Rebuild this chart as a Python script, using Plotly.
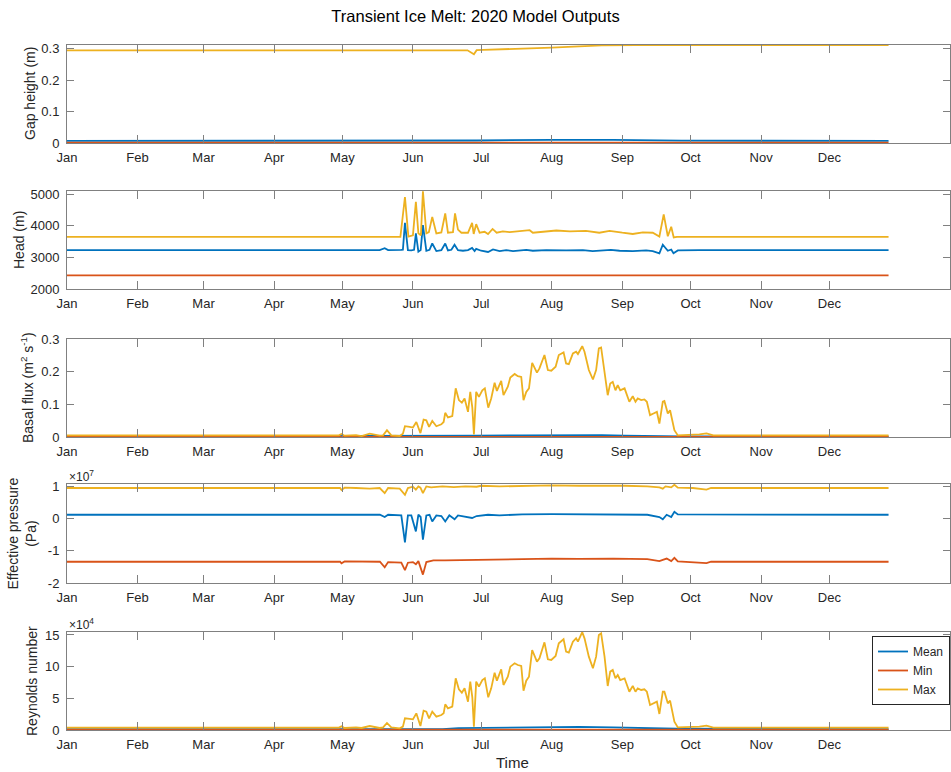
import pandas as pd
import plotly.graph_objects as go

# ---------------- data (day offsets from 2020-01-01) ----------------
START = pd.Timestamp("2020-01-01")

month_ticks = ["2020-01-01", "2020-02-01", "2020-03-01", "2020-04-01", "2020-05-01", "2020-06-01",
               "2020-07-01", "2020-08-01", "2020-09-01", "2020-10-01", "2020-11-01", "2020-12-01"]
month_labels = ["Jan", "Feb", "Mar", "Apr", "May", "Jun", "Jul", "Aug", "Sep", "Oct", "Nov", "Dec"]

series_names = ["Mean", "Min", "Max"]

# Gap height (m)
gap_mean_day = [0, 150, 180, 213, 240, 270, 300, 361]
gap_mean = [0.0065, 0.0065, 0.008, 0.0100, 0.0100, 0.0075, 0.0065, 0.0065]
gap_min_day = [0, 361]
gap_min = [0.0015, 0.0015]
gap_max_day = [0, 120, 176, 178.8, 180, 183, 200, 213, 225, 235, 250, 361]
gap_max = [0.2945, 0.2945, 0.2945, 0.282, 0.295, 0.296, 0.299, 0.303, 0.307, 0.310, 0.311, 0.311]

# Head (m)
head_mean_day = [0, 120, 137.4, 139.6, 141.1, 146.9, 147.6, 148.5, 149.8, 151.3, 152.5, 153.3, 154.4,
                 155.4, 156.4, 157.9, 159.3, 160.5, 162.3, 164.5, 166.2, 167.4, 168.9, 170.3, 171.8,
                 174, 176.2, 178, 179.1, 179.8, 182, 185, 187.2, 190.1, 193, 196, 201.8, 204.7, 210.6,
                 219.3, 226.7, 231, 239, 242.8, 248.6, 254.5, 257.4, 260.3, 261.8, 264, 265.5, 266.5,
                 268.4, 277.9, 361]
head_mean = [3230, 3230, 3230, 3290, 3230, 3235, 3240, 4090, 3230, 3220, 3240, 3760, 3180,
             3230, 4020, 3210, 3240, 3440, 3200, 3230, 3440, 3220, 3240, 3400, 3230,
             3210, 3230, 3300, 3200, 3270, 3210, 3170, 3250, 3200, 3230, 3200, 3240, 3210, 3230,
             3220, 3230, 3200, 3240, 3210, 3200, 3220, 3200, 3130, 3400, 3210, 3250, 3130,
             3220, 3230, 3230]
head_min_day = [0, 361]
head_min = [2430, 2430]
head_max_day = [0, 146.5, 148.5, 150, 152, 153.3, 154.4, 155.5, 156.4, 157.9, 159, 160.5, 162.3,
                164.5, 166.2, 167.4, 169.6, 170.5, 171.8, 173.3, 176.2, 178, 178.7, 179.8, 181.3,
                183.5, 185, 187, 188.8, 191.5, 194.5, 198.9, 203.3, 204.7, 210, 215, 221, 228,
                233.9, 238.4, 244, 248.6, 253, 257.4, 260.3, 262.2, 264, 265.5, 266.6, 268, 361]
head_max = [3650, 3650, 4910, 3660, 3700, 4760, 3760, 3700, 5090, 3760, 3800, 4280, 3760,
            3790, 4390, 3780, 3800, 4390, 3880, 3780, 3780, 4090, 3740, 4050, 3780,
            3810, 3740, 3900, 3780, 3820, 3800, 3840, 3860, 3780, 3820, 3850, 3820, 3840,
            3780, 3840, 3780, 3740, 3790, 3780, 3660, 4360, 3670, 3970, 3630, 3650, 3650]

# Basal flux (m^2 s^-1) and Reynolds number share the same sampling days for Max
act_day = [0, 119.5, 120.6, 122, 127, 129.4, 133, 137.4, 138.9, 140.6, 142.5, 146.2, 147.6, 148.5,
           150.6, 152, 153.5, 155.3, 156.7, 157.9, 159.1, 160.5, 162.3, 164.5, 165.5, 166.2, 167.4,
           169.3, 170.8, 172.2, 173.5, 174.7, 176.2, 177.2, 178.1, 178.8, 179.8, 181, 182.5, 183.6,
           185.1, 186.4, 187.9, 188.9, 190.8, 191.8, 193.7, 194.8, 196.7, 198.1, 199.6, 200.6, 201.8,
           203, 204.4, 206.5, 207.6, 209.8, 211.3, 212.8, 214.7, 216.1, 218.2, 219.3, 220.5, 222.3,
           223.7, 224.5, 226.4, 227.4, 229.3, 231.1, 232.5, 233.7, 234.7, 236.2, 237.6, 238.7, 239.8,
           241, 242, 243.1, 245, 247.1, 248.6, 249.8, 250.8, 252.3, 253.7, 254.8, 256.2, 257.7, 259.2,
           260.3, 261.8, 262.5, 264, 265, 266.9, 268.4, 272, 277.9, 281, 284, 361]
flux_max = [0.005, 0.005, 0.009, 0.004, 0.006, 0.003, 0.010, 0.004, 0.005, 0.021, 0.005, 0.003, 0.010, 0.033,
            0.031, 0.029, 0.046, 0.012, 0.053, 0.051, 0.031, 0.049, 0.033, 0.039, 0.046, 0.074, 0.060,
            0.064, 0.149, 0.113, 0.105, 0.118, 0.077, 0.138, 0.090, 0.008, 0.138, 0.123, 0.143, 0.149,
            0.090, 0.118, 0.166, 0.141, 0.172, 0.128, 0.154, 0.182, 0.193, 0.186, 0.184, 0.113, 0.138,
            0.149, 0.227, 0.197, 0.210, 0.251, 0.205, 0.203, 0.215, 0.251, 0.259, 0.225, 0.223, 0.256,
            0.261, 0.254, 0.278, 0.261, 0.205, 0.176, 0.205, 0.271, 0.274, 0.205, 0.128, 0.164, 0.169,
            0.143, 0.159, 0.143, 0.149, 0.108, 0.125, 0.108, 0.118, 0.113, 0.115, 0.108, 0.067, 0.072, 0.077,
            0.041, 0.108, 0.110, 0.072, 0.082, 0.021, 0.005, 0.006, 0.008, 0.011, 0.005, 0.005]
flux_mean_day = [0, 165, 172, 180, 200, 215, 225, 235, 245, 260, 270, 361]
flux_mean = [0.002, 0.002, 0.003, 0.004, 0.005, 0.006, 0.007, 0.006, 0.004, 0.003, 0.002, 0.002]
flux_min_day = [0, 361]
flux_min = [0.0005, 0.0005]

# Effective pressure (Pa)
eff_mean_day = [0, 120, 120.6, 122, 137.5, 139.6, 141.1, 146.9, 148.5, 149.8, 151.3, 153.3, 154.4,
                155.4, 156.4, 157.9, 159.3, 160.5, 162.3, 164.5, 166.2, 168, 170.3, 171.8, 178, 180,
                185, 190, 200, 213, 225, 240, 255, 260.3, 261.8, 263.5, 265.5, 266.9, 268.4, 361]
eff_mean = [0.12e7, 0.12e7, 0.10e7, 0.12e7, 0.12e7, 0.05e7, 0.12e7, 0.10e7, -0.74e7, 0.10e7, 0.10e7, -0.40e7, 0.12e7,
            0.05e7, -0.65e7, 0.10e7, 0.12e7, -0.09e7, 0.10e7, 0.08e7, -0.09e7, 0.10e7, -0.02e7, 0.10e7, 0.02e7, 0.08e7,
            0.12e7, 0.10e7, 0.13e7, 0.14e7, 0.13e7, 0.14e7, 0.12e7, 0.05e7, -0.02e7, 0.12e7, 0.05e7, 0.21e7, 0.13e7, 0.12e7]
eff_min_day = [0, 120, 120.6, 122, 137.5, 139.6, 141.1, 146.9, 148.5, 149.8, 152, 153.3, 154.4, 156.4,
               157.9, 161, 166, 175, 185, 200, 213, 225, 240, 255, 260.3, 261.8, 263.5, 265.5, 266.9,
               268.4, 281, 283, 361]
eff_min = [-1.34e7, -1.34e7, -1.39e7, -1.33e7, -1.34e7, -1.51e7, -1.35e7, -1.37e7, -1.60e7, -1.37e7, -1.35e7,
           -1.42e7, -1.32e7, -1.74e7, -1.35e7, -1.30e7, -1.30e7, -1.29e7, -1.27e7, -1.26e7, -1.24e7, -1.25e7,
           -1.24e7, -1.26e7, -1.32e7, -1.28e7, -1.24e7, -1.32e7, -1.22e7, -1.33e7, -1.38e7, -1.34e7, -1.34e7]
eff_max_day = [0, 120, 120.6, 122, 127, 133, 137.4, 139.6, 141.1, 146.2, 148.5, 149.8, 152, 153.3, 154.4,
               155.3, 156.4, 157.9, 160, 165, 170, 175, 180, 182, 190, 200, 213, 225, 235, 245, 255,
               260.3, 261.8, 263, 265.5, 266.9, 268.4, 275, 281, 283, 361]
eff_max = [0.95e7, 0.95e7, 0.89e7, 0.96e7, 0.95e7, 0.93e7, 0.95e7, 0.79e7, 0.95e7, 0.93e7, 0.74e7, 0.95e7,
           0.99e7, 0.90e7, 1.0e7, 0.96e7, 0.79e7, 1.0e7, 0.97e7, 1.0e7, 0.98e7, 1.0e7, 0.99e7, 1.02e7, 1.0e7,
           1.02e7, 1.03e7, 1.02e7, 1.03e7, 1.02e7, 1.0e7, 0.97e7, 0.93e7, 1.0e7, 0.97e7, 1.05e7, 0.96e7,
           0.95e7, 0.90e7, 0.95e7, 0.95e7]

# Reynolds number
re_max = [3700, 3700, 5800, 3200, 4200, 3200, 6300, 3200, 4200, 11100, 4200, 2600, 5300, 18400,
          17400, 16800, 26300, 6300, 30500, 28900, 18400, 28900, 21100, 23700, 26300, 40500, 34200,
          36800, 81600, 64200, 58900, 65800, 44700, 76300, 51600, 5300, 76300, 68400, 78900, 81600,
          51600, 65800, 90500, 77900, 95800, 71100, 84200, 100000, 105300, 102600, 101100, 62100, 77900,
          84200, 126300, 107900, 113200, 138400, 111600, 110500, 116800, 136800, 143200, 123700, 122100, 139500,
          144700, 139500, 154500, 144700, 115800, 97400, 115800, 150000, 152600, 115800, 69500, 92100, 94700,
          81600, 86800, 78900, 81600, 60500, 69500, 60500, 65800, 63200, 64200, 60500, 39500, 42100, 44700,
          25300, 60500, 60500, 42100, 46300, 13200, 4200, 4200, 5300, 7000, 3700, 3700]
re_mean_day = [0, 165, 172, 190, 210, 225, 240, 255, 268, 361]
re_mean = [1500, 1500, 3000, 3500, 4500, 5000, 4000, 3000, 2000, 1500]
re_min_day = [0, 361]
re_min = [500, 500]

# tick definitions
gap_ticks = [0, 0.1, 0.2, 0.3]
gap_ticktext = ["0", "0.1", "0.2", "0.3"]
head_ticks = [2000, 3000, 4000, 5000]
head_ticktext = ["2000", "3000", "4000", "5000"]
flux_ticks = [0, 0.1, 0.2, 0.3]
flux_ticktext = ["0", "0.1", "0.2", "0.3"]
eff_ticks = [-2e7, -1e7, 0, 1e7]
eff_ticktext = ["-2", "-1", "0", "1"]
re_ticks = [0, 5e4, 10e4, 15e4]
re_ticktext = ["0", "5", "10", "15"]


def to_dates(days):
    return [START + pd.Timedelta(days=float(d)) for d in days]


# ---------------- figure ----------------
colors = ["#0072BD", "#D95319", "#EDB120"]
FONT = "Liberation Sans, Arial, Helvetica, sans-serif"
AX = "#808080"
TXT = "#262626"

panels = [
    dict(series=[(gap_mean_day, gap_mean), (gap_min_day, gap_min), (gap_max_day, gap_max)],
         yrange=[0, 0.3115], ticks=gap_ticks, ticktext=gap_ticktext, label="Gap height (m)",
         lx=30, exp=None),
    dict(series=[(head_mean_day, head_mean), (head_min_day, head_min), (head_max_day, head_max)],
         yrange=[2000, 5100], ticks=head_ticks, ticktext=head_ticktext, label="Head (m)",
         lx=19, exp=None),
    dict(series=[(flux_mean_day, flux_mean), (flux_min_day, flux_min), (act_day, flux_max)],
         yrange=[0, 0.3], ticks=flux_ticks, ticktext=flux_ticktext,
         label="Basal flux (m<sup>2</sup> s<sup>-1</sup>)", lx=27, exp=None),
    dict(series=[(eff_mean_day, eff_mean), (eff_min_day, eff_min), (eff_max_day, eff_max)],
         yrange=[-2e7, 1.075e7], ticks=eff_ticks, ticktext=eff_ticktext,
         label="Effective pressure<br>(Pa)", lx=21, exp="7"),
    dict(series=[(re_mean_day, re_mean), (re_min_day, re_min), (act_day, re_max)],
         yrange=[0, 15.47e4], ticks=re_ticks, ticktext=re_ticktext, label="Reynolds number",
         lx=32, exp="4"),
]

# pixel layout of each axes box (top, bottom) in a 772 px tall figure
W, H = 951, 772
L, R, T, B = 67, 1, 45, 42
boxes = [(45, 143), (191, 289), (339, 437), (484, 583), (632, 730)]
plot_h = H - T - B
plot_w = W - L - R

fig = go.Figure()
layout = dict(
    width=W, height=H,
    margin=dict(l=L, r=R, t=T, b=B),
    paper_bgcolor="white", plot_bgcolor="white",
    font=dict(family=FONT, size=13, color=TXT),
    showlegend=True,
    annotations=[],
)

for i, p in enumerate(panels):
    n = i + 1
    xa = "x" if n == 1 else f"x{n}"
    ya = "y" if n == 1 else f"y{n}"
    for j, (d, v) in enumerate(p["series"]):
        fig.add_trace(go.Scatter(
            x=to_dates(d), y=v, mode="lines", name=series_names[j],
            line=dict(color=colors[j], width=1.8),
            xaxis=xa, yaxis=ya, showlegend=(n == 5), legendgroup=series_names[j],
        ))
    top, bot = boxes[i]
    dom = [(H - B - bot) / plot_h, (H - B - top) / plot_h]
    layout[f"xaxis{'' if n == 1 else n}"] = dict(
        domain=[0, 1], anchor=ya, type="date",
        range=["2020-01-01", "2021-01-23"],
        tickmode="array", tickvals=month_ticks, ticktext=month_labels,
        ticks="inside", ticklen=8, tickcolor=AX, tickwidth=1,
        showline=True, linecolor=AX, linewidth=1, mirror="ticks",
        showgrid=False, zeroline=False,
        tickfont=dict(size=13, color=TXT), ticklabelstandoff=2,
    )
    layout[f"yaxis{'' if n == 1 else n}"] = dict(
        domain=dom, anchor=xa, range=p["yrange"],
        tickmode="array", tickvals=p["ticks"], ticktext=p["ticktext"],
        ticks="inside", ticklen=7, tickcolor=AX, tickwidth=1,
        showline=True, linecolor=AX, linewidth=1, mirror="ticks",
        showgrid=False, zeroline=False,
        tickfont=dict(size=13, color=TXT), ticklabelstandoff=4,
    )
    # y-axis label
    layout["annotations"].append(dict(
        text=p["label"], xref="paper", yref="paper",
        x=(p["lx"] - L) / plot_w, y=(dom[0] + dom[1]) / 2,
        xanchor="center", yanchor="middle", textangle=-90, showarrow=False,
        font=dict(size=14, color=TXT, family=FONT),
    ))
    if p["exp"]:
        layout["annotations"].append(dict(
            text=f"×10<sup>{p['exp']}</sup>", xref="paper", yref="paper",
            x=0, y=dom[1], xanchor="left", yanchor="bottom", showarrow=False,
            font=dict(size=12, color=TXT, family=FONT), yshift=-2,
        ))

# x-axis label
layout["annotations"].append(dict(
    text="Time", xref="paper", yref="paper", x=(512 - L) / plot_w, y=(H - B - 762) / plot_h,
    xanchor="center", yanchor="middle", showarrow=False,
    font=dict(size=15, color=TXT, family=FONT),
))

layout["title"] = dict(
    text="Transient Ice Melt: 2020 Model Outputs", x=0.5, xanchor="center",
    y=1 - 16 / H, yanchor="middle", font=dict(size=16.5, color="#000000", family=FONT),
)
layout["legend"] = dict(
    x=1, y=(H - B - 636) / plot_h, xanchor="right", yanchor="top",
    bgcolor="white", bordercolor="#262626", borderwidth=1,
    font=dict(size=12, color=TXT, family=FONT), itemwidth=30, tracegroupgap=0,
)

fig.update_layout(**layout)
fig.write_html(
    "out.html",
    config={"displayModeBar": False},
    post_script="document.body.style.margin='0';document.body.style.overflow='hidden';",
)
